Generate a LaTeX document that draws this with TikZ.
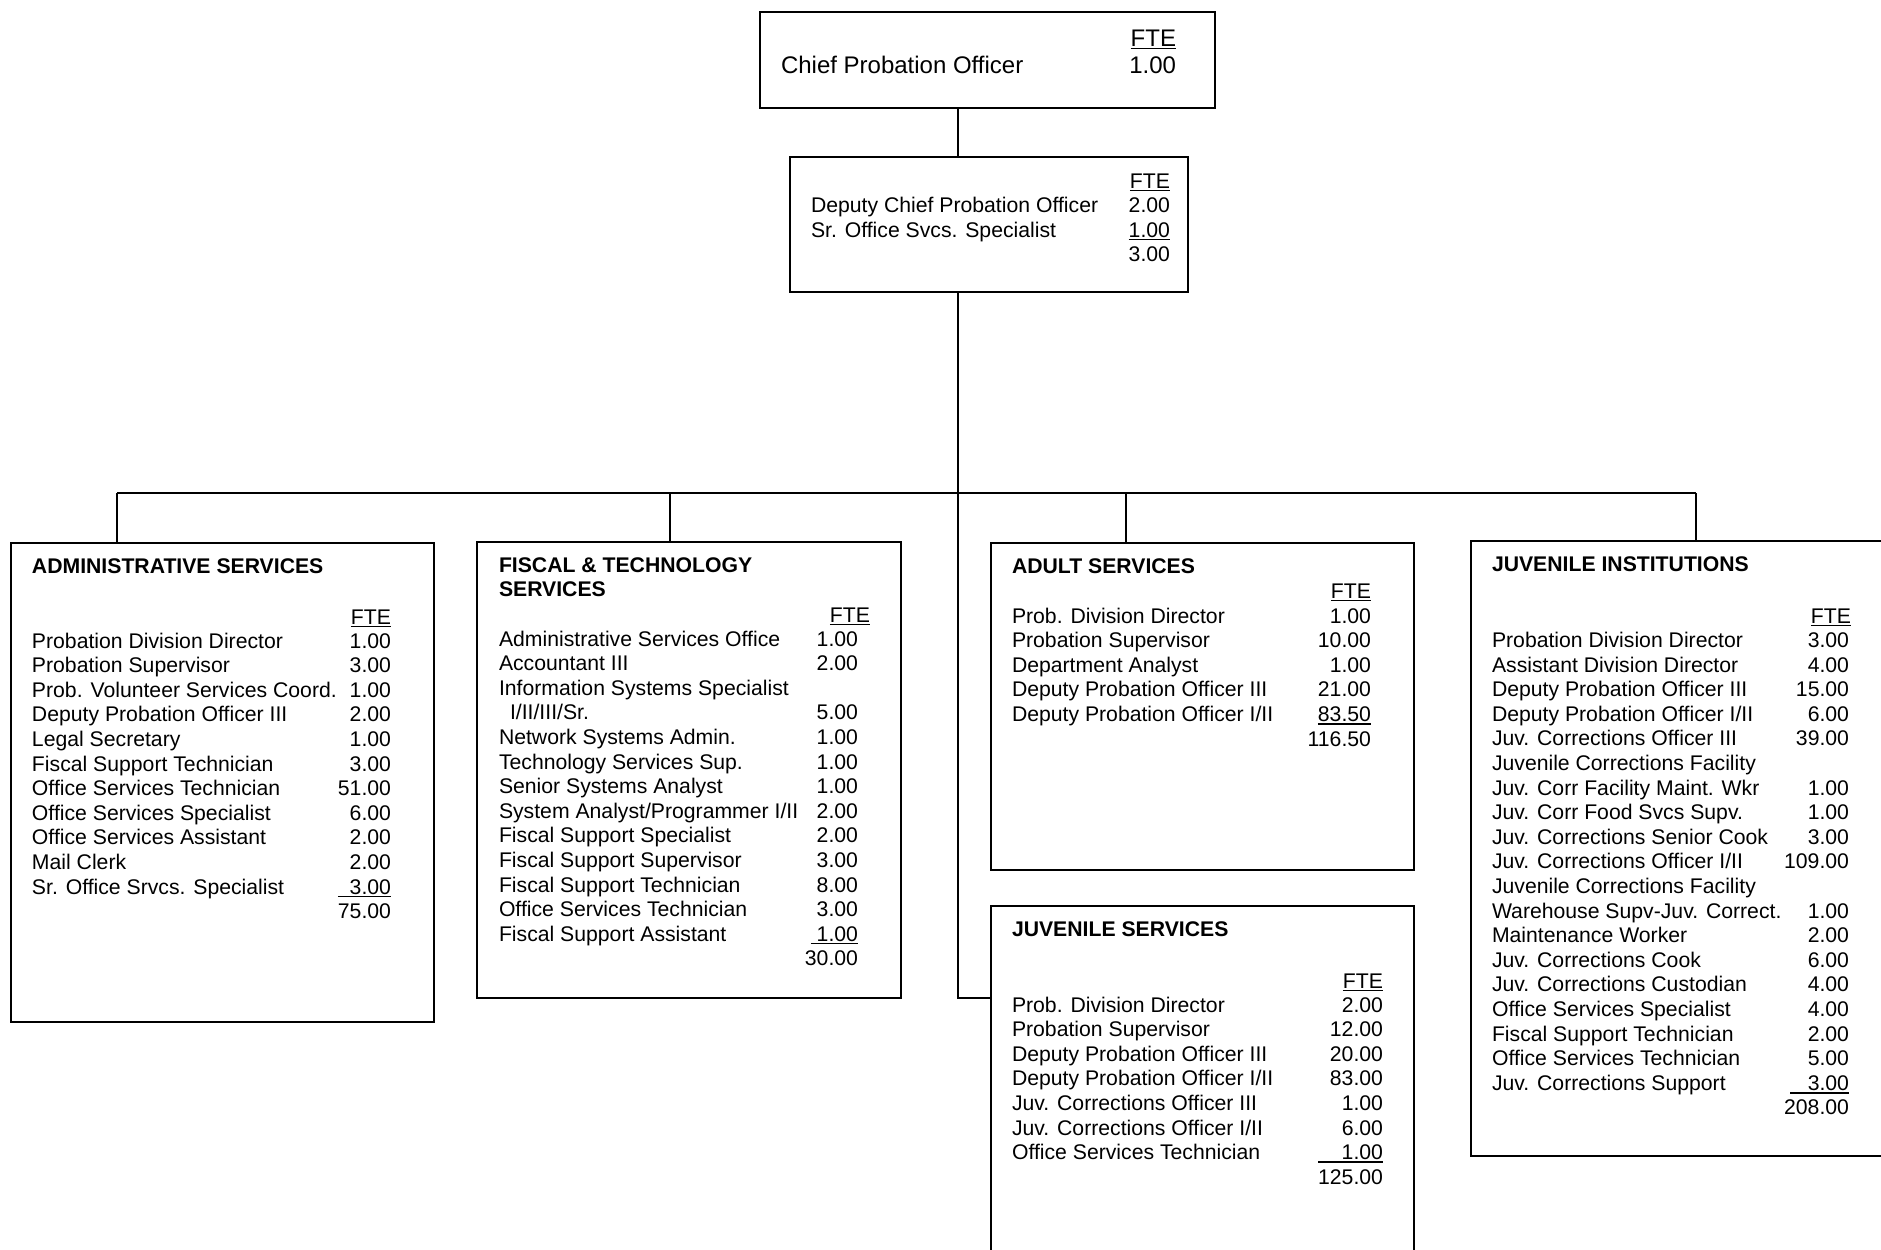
\documentclass[tikz,border=0pt]{standalone}
\usepackage{fontspec}
\setmainfont{Liberation Sans}
\usetikzlibrary{fit}
\newcommand\ulx[1]{\leavevmode\setbox0\hbox{#1}\rlap{\rule[-1.6pt]{\wd0}{0.75pt}}\box0}
\tikzset{
 box/.style={draw, line width=1.3pt, inner sep=0pt},
 link/.style={line width=1.3pt},
 lbl/.style={inner sep=0pt, outer sep=0pt, font=\fontsize{10.6}{12.3}\selectfont},
 big/.style={inner sep=0pt, outer sep=0pt, font=\fontsize{12}{14}\selectfont},
 ttl/.style={inner sep=0pt, outer sep=0pt, font=\fontsize{10.6}{12.3}\selectfont\bfseries, anchor=base west},
}
% row with label and number
\newcommand\rw[5]{%
 \node[#3,anchor=base west] (#1l#2) at (\LX,{\YZ+#2*\DY}) {#4};
 \node[#3,anchor=base east] (#1n#2) at (\NX,{\YZ+#2*\DY}) {#5};}
% row with label only
\newcommand\rl[4]{%
 \node[#3,anchor=base west] (#1l#2) at (\LX,{\YZ+#2*\DY}) {#4};}
% number only
\newcommand\rn[4]{%
 \node[#3,anchor=base east] (#1n#2) at (\NX,{\YZ+#2*\DY}) {#4};}
\begin{document}
\begin{tikzpicture}[x=0.5pt,y=-0.5pt]
\useasboundingbox (0,0) rectangle (1881,1249);
\clip (0,0) rectangle (1881,1249);
\fill[white] (0,0) rectangle (1881,1249);

% ---------- boxes ----------
\node[box, fit={(760,12) (1215,108)}] (chief) {};
\node[box, fit={(790,157) (1188,292)}] (deputy) {};
\node[box, fit={(11,543) (434,1022)}] (adm) {};
\node[box, fit={(477,542) (901,998)}] (fis) {};
\node[box, fit={(991,543) (1414,870)}] (adu) {};
\node[box, fit={(991,906) (1414,1280)}] (juvs) {};
\node[box, fit={(1471,541) (1910,1156)}] (juvi) {};

% ---------- connectors ----------
\coordinate (tr) at (958,493);
\coordinate (js) at (958,998);
\coordinate (dA) at (117,493);
\coordinate (dF) at (670,493);
\coordinate (dD) at (1126,493);
\coordinate (dI) at (1696,493);
\draw[link] (chief.south -| tr) -- (deputy.north -| tr);
\draw[link] (deputy.south -| tr) -- (js) -- (juvs.west |- js);
\draw[link] (dA) -- (dI);
\draw[link] (dA) -- (adm.north -| dA);
\draw[link] (dF) -- (fis.north -| dF);
\draw[link] (dD) -- (adu.north -| dD);
\draw[link] (dI) -- (juvi.north -| dI);

% ---------- chief ----------
\node[big, anchor=base west] (chiefl) at (781,73) {Chief Probation Officer};
\node[big, anchor=base east] (chieff) at (1176,46) {\ulx{FTE}};
\node[big, anchor=base east] (chiefn) at (1176,73) {1.00};

% ---------- deputy ----------
\node[lbl, anchor=base east] (depf) at (1170,188) {\ulx{FTE}};
\node[lbl, anchor=base west] (depl1) at (811,212) {Deputy Chief Probation Officer};
\node[lbl, anchor=base east] (depn1) at (1170,212) {2.00};
\node[lbl, anchor=base west] (depl2) at (811,237) {Sr. Office Svcs. Specialist};
\node[lbl, anchor=base east] (depn2) at (1170,237) {\ulx{1.00}};
\node[lbl, anchor=base east] (depn3) at (1170,261) {3.00};

% ---------- administrative services ----------
\node[ttl] (admt) at (32,573) {ADMINISTRATIVE SERVICES};
\node[lbl, anchor=base east] (admf) at (391,624) {\ulx{FTE}};
\def\LX{32}\def\NX{391}\def\YZ{648}\def\DY{24.6}
\rw{adm}{0}{lbl}{Probation Division Director}{1.00}
\rw{adm}{1}{lbl}{Probation Supervisor}{3.00}
\rw{adm}{2}{lbl}{Prob. Volunteer Services Coord.}{1.00}
\rw{adm}{3}{lbl}{Deputy Probation Officer III}{2.00}
\rw{adm}{4}{lbl}{Legal Secretary}{1.00}
\rw{adm}{5}{lbl}{Fiscal Support Technician}{3.00}
\rw{adm}{6}{lbl}{Office Services Technician}{51.00}
\rw{adm}{7}{lbl}{Office Services Specialist}{6.00}
\rw{adm}{8}{lbl}{Office Services Assistant}{2.00}
\rw{adm}{9}{lbl}{Mail Clerk}{2.00}
\rw{adm}{10}{lbl}{Sr. Office Srvcs. Specialist}{\ulx{\hphantom{0}3.00}}
\rn{adm}{11}{lbl}{75.00}

% ---------- fiscal & technology ----------
\node[ttl] (fist1) at (499,572) {FISCAL \& TECHNOLOGY};
\node[ttl] (fist2) at (499,596) {SERVICES};
\node[lbl, anchor=base east] (fisf) at (870,622) {\ulx{FTE}};
\def\LX{499}\def\NX{858}\def\YZ{646}\def\DY{24.6}
\rw{fis}{0}{lbl}{Administrative Services Office}{1.00}
\rw{fis}{1}{lbl}{Accountant III}{2.00}
\rl{fis}{2}{lbl}{Information Systems Specialist}
\rw{fis}{3}{lbl}{\hspace*{5.5pt}I/II/III/Sr.}{5.00}
\rw{fis}{4}{lbl}{Network Systems Admin.}{1.00}
\rw{fis}{5}{lbl}{Technology Services Sup.}{1.00}
\rw{fis}{6}{lbl}{Senior Systems Analyst}{1.00}
\rw{fis}{7}{lbl}{System Analyst/Programmer I/II}{2.00}
\rw{fis}{8}{lbl}{Fiscal Support Specialist}{2.00}
\rw{fis}{9}{lbl}{Fiscal Support Supervisor}{3.00}
\rw{fis}{10}{lbl}{Fiscal Support Technician}{8.00}
\rw{fis}{11}{lbl}{Office Services Technician}{3.00}
\rw{fis}{12}{lbl}{Fiscal Support Assistant}{\ulx{\hphantom{.}1.00}}
\rn{fis}{13}{lbl}{30.00}

% ---------- adult services ----------
\node[ttl] (adut) at (1012,573) {ADULT SERVICES};
\node[lbl, anchor=base east] (aduf) at (1371,598) {\ulx{FTE}};
\def\LX{1012}\def\NX{1371}\def\YZ{623}\def\DY{24.6}
\rw{adu}{0}{lbl}{Prob. Division Director}{1.00}
\rw{adu}{1}{lbl}{Probation Supervisor}{10.00}
\rw{adu}{2}{lbl}{Department Analyst}{1.00}
\rw{adu}{3}{lbl}{Deputy Probation Officer III}{21.00}
\rw{adu}{4}{lbl}{Deputy Probation Officer I/II}{\ulx{83.50}}
\rn{adu}{5}{lbl}{116.50}

% ---------- juvenile services ----------
\node[ttl] (juvst) at (1012,936) {JUVENILE SERVICES};
\node[lbl, anchor=base east] (juvsf) at (1383,988) {\ulx{FTE}};
\def\LX{1012}\def\NX{1383}\def\YZ{1012}\def\DY{24.6}
\rw{juvs}{0}{lbl}{Prob. Division Director}{2.00}
\rw{juvs}{1}{lbl}{Probation Supervisor}{12.00}
\rw{juvs}{2}{lbl}{Deputy Probation Officer III}{20.00}
\rw{juvs}{3}{lbl}{Deputy Probation Officer I/II}{83.00}
\rw{juvs}{4}{lbl}{Juv. Corrections Officer III}{1.00}
\rw{juvs}{5}{lbl}{Juv. Corrections Officer I/II}{6.00}
\rw{juvs}{6}{lbl}{Office Services Technician}{\ulx{\hphantom{00}1.00}}
\rn{juvs}{7}{lbl}{125.00}

% ---------- juvenile institutions ----------
\node[ttl] (juvit) at (1492,571) {JUVENILE INSTITUTIONS};
\node[lbl, anchor=base east] (juvif) at (1851,623) {\ulx{FTE}};
\def\LX{1492}\def\NX{1849}\def\YZ{647.5}\def\DY{24.6}
\rw{juvi}{0}{lbl}{Probation Division Director}{3.00}
\rw{juvi}{1}{lbl}{Assistant Division Director}{4.00}
\rw{juvi}{2}{lbl}{Deputy Probation Officer III}{15.00}
\rw{juvi}{3}{lbl}{Deputy Probation Officer I/II}{6.00}
\rw{juvi}{4}{lbl}{Juv. Corrections Officer III}{39.00}
\rl{juvi}{5}{lbl}{Juvenile Corrections Facility}
\rw{juvi}{6}{lbl}{Juv. Corr Facility Maint. Wkr}{1.00}
\rw{juvi}{7}{lbl}{Juv. Corr Food Svcs Supv.}{1.00}
\rw{juvi}{8}{lbl}{Juv. Corrections Senior Cook}{3.00}
\rw{juvi}{9}{lbl}{Juv. Corrections Officer I/II}{109.00}
\rl{juvi}{10}{lbl}{Juvenile Corrections Facility}
\rw{juvi}{11}{lbl}{Warehouse Supv-Juv. Correct.}{1.00}
\rw{juvi}{12}{lbl}{Maintenance Worker}{2.00}
\rw{juvi}{13}{lbl}{Juv. Corrections Cook}{6.00}
\rw{juvi}{14}{lbl}{Juv. Corrections Custodian}{4.00}
\rw{juvi}{15}{lbl}{Office Services Specialist}{4.00}
\rw{juvi}{16}{lbl}{Fiscal Support Technician}{2.00}
\rw{juvi}{17}{lbl}{Office Services Technician}{5.00}
\rw{juvi}{18}{lbl}{Juv. Corrections Support}{\ulx{\hphantom{0.}3.00}}
\rn{juvi}{19}{lbl}{208.00}
\end{tikzpicture}
\end{document}
